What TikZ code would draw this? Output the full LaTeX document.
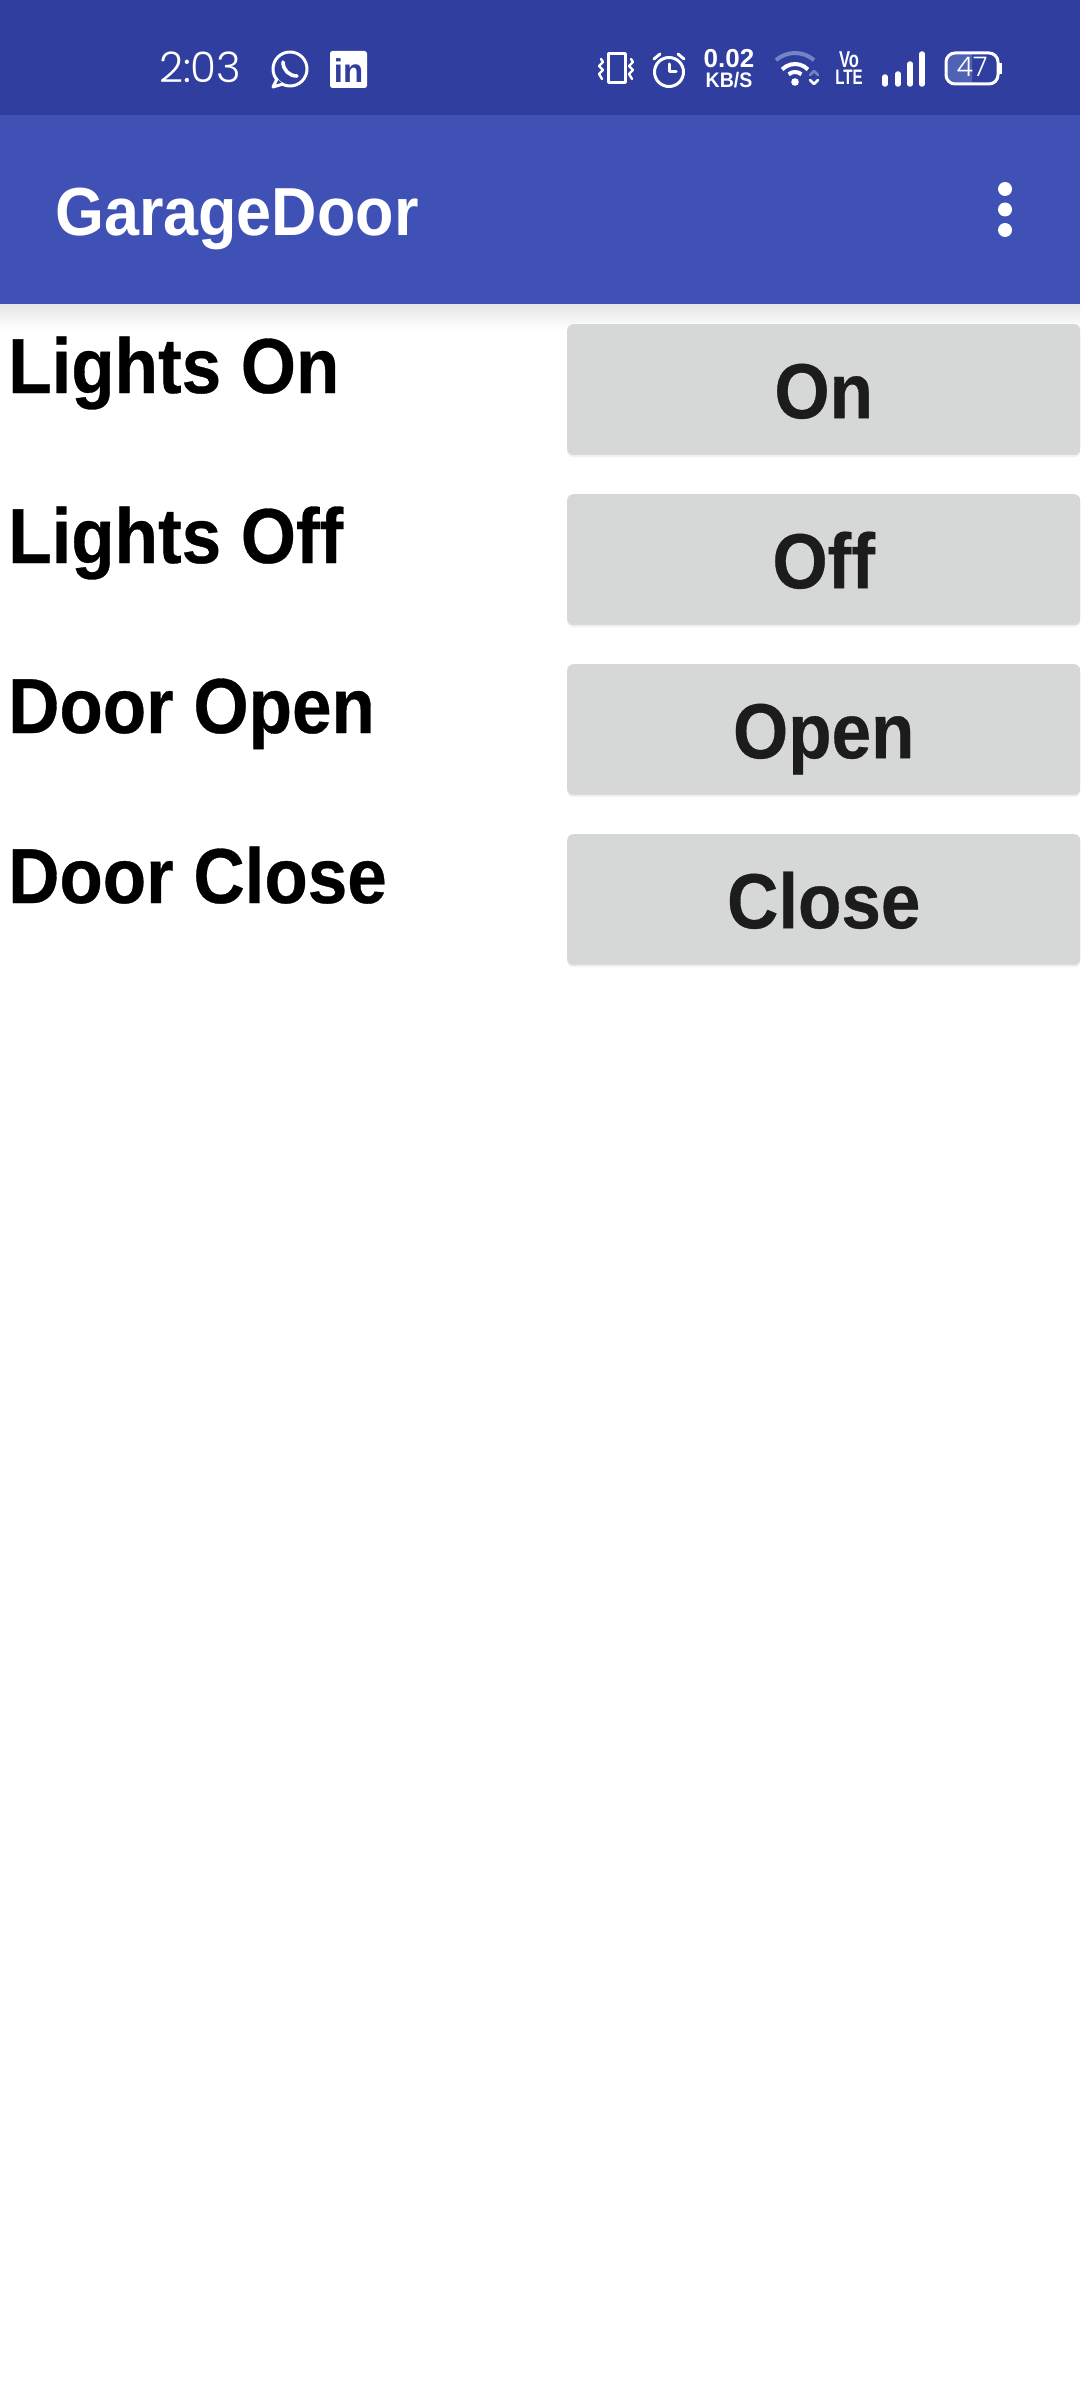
\documentclass[tikz,border=0pt]{standalone}
\usepackage{fontspec}
\setmainfont{Liberation Sans}
\newfontfamily\lightfont{Poppins Light}
\newfontfamily\rowfont{Liberation Sans}[FakeStretch=0.91, BoldFeatures={FakeBold=0.4}]
\newfontfamily\titlefont{Liberation Sans}[FakeStretch=0.925]
\newfontfamily\tinyfont{Liberation Sans}[FakeStretch=0.93]
\newfontfamily\narrowfont{Liberation Sans}[FakeStretch=0.72]
\usetikzlibrary{shadows}

\definecolor{statusblue}{HTML}{303F9F}
\definecolor{barblue}{HTML}{3F51B5}
\definecolor{btngray}{HTML}{D6D7D7}
\definecolor{btnink}{HTML}{1C1C1C}
\definecolor{chargeblue}{HTML}{5062B4}
\definecolor{faintwhite}{HTML}{7683C4}

\newcommand{\pxfont}[1]{\fontsize{#1}{#1}\selectfont}

\tikzset{
    rowlabel/.style={anchor=base west, inner sep=0pt, font=\rowfont\pxfont{78}\bfseries, text=black},
    btnbox/.style={anchor=north west, inner sep=0pt, minimum width=513pt, minimum height=129pt,
        text height=59pt, text depth=0pt, fill=btngray, rounded corners=6pt, text=btnink,
        font=\rowfont\pxfont{78}\bfseries,
        drop shadow={shadow xshift=0pt, shadow yshift=-4pt, fill=black, opacity=0.05},
        drop shadow={shadow xshift=0pt, shadow yshift=-2pt, fill=black, opacity=0.10}},
    statustext/.style={inner sep=0pt, text=white},
    icon/.style={draw=white, line width=3pt, line cap=round, line join=round}
}

\begin{document}
\begin{tikzpicture}[x=1pt, y=-1pt]
    \useasboundingbox (0, 0) rectangle (1080, 2400);
    \fill[white] (0, 0) rectangle (1080, 2400);

    % bars
    \shade[top color=black!10, bottom color=white] (0, 304) rectangle (1080, 330);
    \fill[statusblue] (0, 0) rectangle (1080, 115);
    \fill[barblue] (0, 115) rectangle (1080, 304);

    \node[statustext, anchor=base west, font=\lightfont\pxfont{42}] (clock) at (159, 83) {2:03};
    \node[statustext, anchor=base west, font=\titlefont\pxfont{68}\bfseries] (title) at (55, 236) {GarageDoor};

    % whatsapp
    \draw[icon] (290, 69) circle (17);
    \draw[icon, fill=statusblue] (277, 79) -- (273, 87) -- (283, 84);
    \draw[white, line width=3.6pt, line cap=round] (283, 62) .. controls (283, 70) and (289, 76) .. (297, 76);

    % linkedin
    \fill[white, rounded corners=2.5pt] (330, 51) rectangle (367, 88);
    \node[anchor=base, inner sep=0pt, text=statusblue, font=\pxfont{33}\bfseries] (linkedin) at (348.5, 83) {in};

    % vibrate
    \draw[icon] (608, 54) rectangle (625, 83);
    \draw[icon, line width=2.4pt] (601, 59) -- (603, 62) -- (599, 66) -- (603, 70) -- (599, 74) -- (602, 79);
    \draw[icon, line width=2.4pt] (631, 59) -- (633, 62) -- (629, 66) -- (633, 70) -- (629, 74) -- (632, 79);

    % alarm
    \draw[icon] (669, 72) circle (14.5);
    \draw[icon] (669, 64) -- (669, 72) -- (676, 72);
    \draw[icon] (654, 59) -- (660, 54);
    \draw[icon] (684, 59) -- (678, 54);

    % speed
    \node[statustext, anchor=base, font=\pxfont{26}\bfseries] (speed) at (729, 68) {0.02};
    \node[statustext, anchor=base, font=\tinyfont\pxfont{21}\bfseries] (speedunit) at (729, 88) {KB/S};

    % wifi
    \coordinate (wifi) at (795, 82);
    \fill[white] (wifi) circle (3.8);
    \draw[icon, draw=faintwhite, line width=4pt, line cap=butt] ([shift={(49:29pt)}]wifi) arc[start angle=49, end angle=131, radius=29pt];
    \draw[icon, line width=4pt, line cap=butt] ([shift={(44:18pt)}]wifi) arc[start angle=44, end angle=136, radius=18pt];
    \draw[icon, line width=4pt, line cap=butt] ([shift={(50:10pt)}]wifi) arc[start angle=50, end angle=130, radius=10pt];
    \draw[icon, draw=faintwhite, line width=2.6pt] (810, 75) -- (814, 71) -- (818, 75);
    \draw[icon, line width=2.6pt] (810, 80) -- (814, 84) -- (818, 80);

    % volte
    \node[statustext, anchor=base, font=\narrowfont\pxfont{23}\bfseries] (vo) at (849, 68) {Vo};
    \node[statustext, anchor=base, font=\narrowfont\pxfont{21}\bfseries] (lte) at (849, 85) {LTE};

    % signal
    \draw[white, line width=5.5pt, line cap=round] (885, 77) -- (885, 84);
    \draw[white, line width=5.5pt, line cap=round] (898, 74) -- (898, 84);
    \draw[white, line width=5.5pt, line cap=round] (910, 64) -- (910, 84);
    \draw[white, line width=5.5pt, line cap=round] (922, 54) -- (922, 84);

    % battery
    \fill[chargeblue] (972, 53) [rounded corners=8pt] -- (946, 53) -- (946, 84) [sharp corners] -- (972, 84) -- cycle;
    \draw[icon, rounded corners=9pt] (946, 53) rectangle (998, 84);
    \fill[white] (999, 63) rectangle (1002, 74);
    \node[statustext, anchor=base, font=\lightfont\pxfont{27}] (charge) at (972, 77) {47};

    % menu dots
    \fill[white] (1005, 189) circle (7);
    \fill[white] (1005, 209.5) circle (7);
    \fill[white] (1005, 230) circle (7);

    % rows
    \node[rowlabel] (lightson) at (8, 393) {Lights On};
    \node[btnbox] (btnon) at (567, 324) {On};

    \node[rowlabel] (lightsoff) at (8, 563) {Lights Off};
    \node[btnbox] (btnoff) at (567, 494) {Off};

    \node[rowlabel] (dooropen) at (8, 733) {Door Open};
    \node[btnbox] (btnopen) at (567, 664) {Open};

    \node[rowlabel] (doorclose) at (8, 903) {Door Close};
    \node[btnbox] (btnclose) at (567, 834) {Close};
\end{tikzpicture}
\end{document}
